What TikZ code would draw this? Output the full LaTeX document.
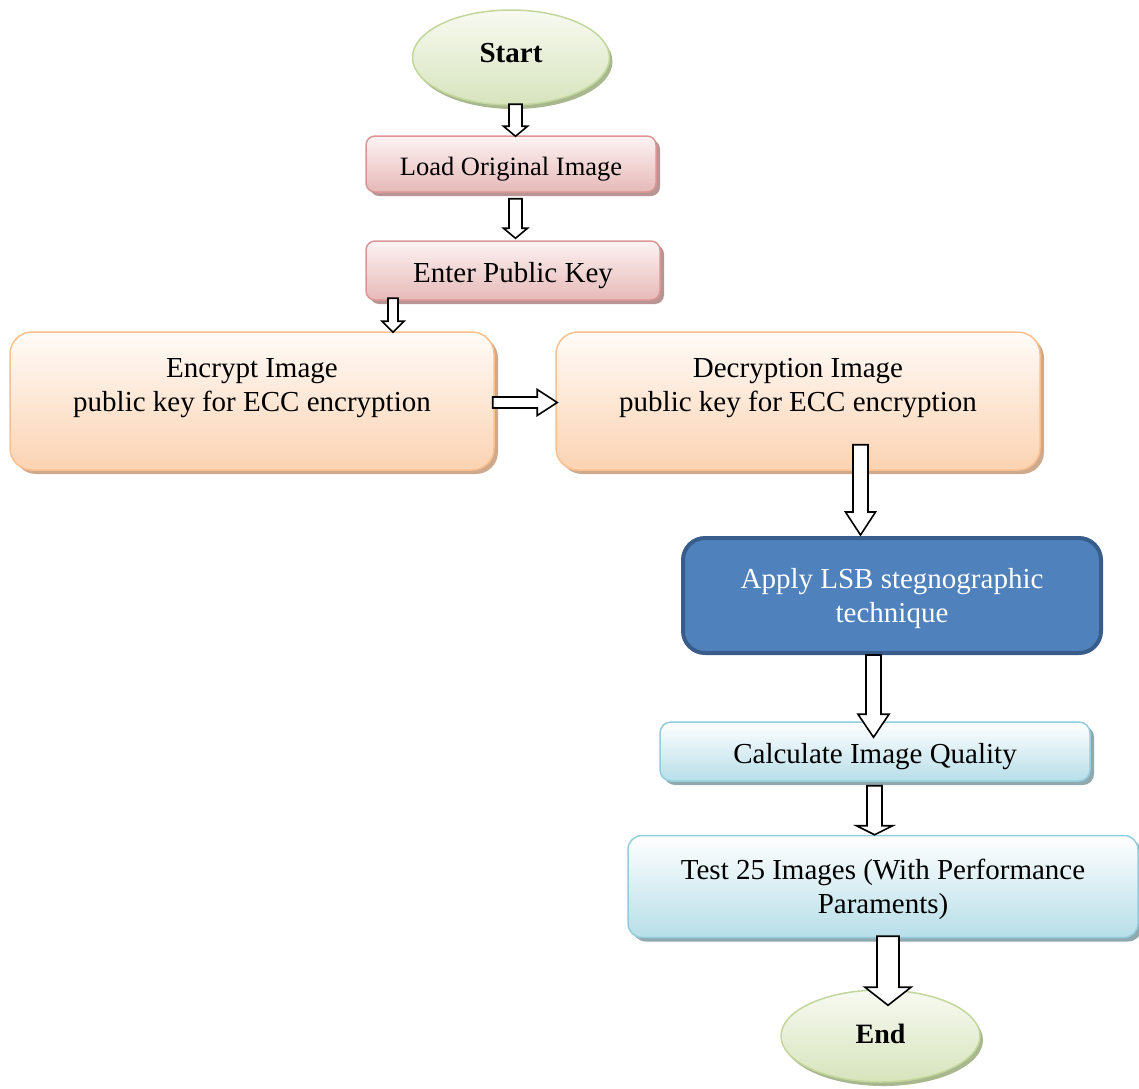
\documentclass[tikz,border=0pt]{standalone}
\usepackage{fontspec}
\setmainfont{Liberation Serif}
\usetikzlibrary{shapes.geometric,shadows,calc}

\definecolor{grnline}{HTML}{C3D69B}
\definecolor{grntop}{HTML}{F7FAF1}
\definecolor{grnbot}{HTML}{D7E4BD}
\definecolor{grnshd}{HTML}{A9B78F}
\definecolor{redline}{HTML}{D99694}
\definecolor{redtop}{HTML}{FDF3F3}
\definecolor{redbot}{HTML}{E6B9B8}
\definecolor{redshd}{HTML}{B89593}
\definecolor{orgline}{HTML}{FAC090}
\definecolor{orgtop}{HTML}{FFFBF8}
\definecolor{orgbot}{HTML}{FBD3B2}
\definecolor{orgshd}{HTML}{CFA98C}
\definecolor{lsbfill}{HTML}{4F81BD}
\definecolor{lsbline}{HTML}{385D8A}
\definecolor{aqline}{HTML}{93CDDD}
\definecolor{aqtop}{HTML}{FFFFFF}
\definecolor{aqbot}{HTML}{B7DEE8}
\definecolor{aqshd}{HTML}{90A9AF}

% hollow block arrows: from, to, half shaft, half head, head length
\newcommand\downblk[5]{%
  \draw[blk] let \p1=#1, \p2=#2 in
    (\x1-#3,\y1) -- (\x1-#3,\y2+#5) -- (\x1-#4,\y2+#5) -- (\x1,\y2)
    -- (\x1+#4,\y2+#5) -- (\x1+#3,\y2+#5) -- (\x1+#3,\y1) -- cycle;}
\newcommand\rightblk[5]{%
  \draw[blk] let \p1=#1, \p2=#2 in
    (\x1,\y1+#3) -- (\x2-#5,\y1+#3) -- (\x2-#5,\y1+#4) -- (\x2,\y1)
    -- (\x2-#5,\y1-#4) -- (\x2-#5,\y1-#3) -- (\x1,\y1-#3) -- cycle;}

\begin{document}
\begin{tikzpicture}[x=1pt,y=-1pt,
  every node/.style={align=center,inner sep=0pt,font=\fontsize{29}{34}\selectfont},
  blk/.style={draw=black,fill=white,line width=1.6pt,line join=miter},
  term/.style={ellipse,draw=grnline,line width=1.5pt,top color=grntop,bottom color=grnbot,
    drop shadow={shadow xshift=3pt,shadow yshift=-4pt,fill=grnshd,opacity=1},
    font=\bfseries\fontsize{29}{34}\selectfont},
  redbox/.style={rectangle,rounded corners=9pt,draw=redline,line width=1.5pt,
    top color=redtop,bottom color=redbot,text height=23pt,text depth=0pt,
    drop shadow={shadow xshift=4pt,shadow yshift=-4pt,fill=redshd,opacity=1}},
  orgbox/.style={rectangle,rounded corners=22pt,draw=orgline,line width=1.5pt,
    top color=orgtop,bottom color=orgbot,minimum width=484pt,minimum height=138pt,
    text height=26pt,text depth=6pt,
    drop shadow={shadow xshift=4pt,shadow yshift=-4pt,fill=orgshd,opacity=1}},
  lsbbox/.style={rectangle,rounded corners=22pt,draw=lsbline,line width=4pt,
    fill=lsbfill,text=white},
  aqbox/.style={rectangle,rounded corners=11pt,draw=aqline,line width=1.5pt,
    top color=aqtop,bottom color=aqbot,
    drop shadow={shadow xshift=4pt,shadow yshift=-4pt,fill=aqshd,opacity=1}}]
  \useasboundingbox (0,0) rectangle (1139,1088);

  % steps
  \node[term,minimum width=197pt,minimum height=95pt,text height=20pt,text depth=11pt] (start) at (511,57.5) {Start};
  \node[redbox,minimum width=290pt,minimum height=56pt,text height=22pt,
    font=\fontsize{26.5}{32}\selectfont] (load) at (511,164) {Load Original Image};
  \node[redbox,minimum width=294pt,minimum height=59pt] (key) at (513,270.5) {Enter Public Key};
  \node[orgbox] (enc) at (252,401) {Encrypt Image\\public key for ECC encryption};
  \node[orgbox] (dec) at (798,401) {Decryption Image\\public key for ECC encryption};
  \node[lsbbox,minimum width=418pt,minimum height=115pt,text height=60pt,text depth=6pt] (lsb) at (892,595.5)
    {Apply LSB stegnographic\\technique};
  \node[aqbox,minimum width=430pt,minimum height=59pt,text height=23pt,text depth=0pt] (qual) at (875,751.5)
    {Calculate Image Quality};
  \node[aqbox,rounded corners=14pt,minimum width=510pt,minimum height=102pt,text height=59pt,text depth=6pt]
    (test) at (883,886.5) {Test 25 Images (With Performance\\Paraments)};
  \node[term,minimum width=199pt,minimum height=92pt,text height=20pt,text depth=6pt,
    font=\bfseries\fontsize{28}{34}\selectfont] (end) at (880.5,1036) {End};

  % arrows
  \downblk{($(start.south)+(4.5,-1.5)$)}{($(load.north)+(0,1)$)}{6.5pt}{12pt}{10pt}
  \downblk{($(load.south)+(4.5,6)$)}{($(key.north)+(0,-2)$)}{6.5pt}{12pt}{10pt}
  \downblk{($(key.south)+(-120,-2.5)$)}{($(enc.north)+(0,1)$)}{5pt}{11pt}{11pt}
  \rightblk{($(enc.east)+(-2,1.5)$)}{($(dec.west)+(2,0)$)}{5.5pt}{13pt}{20pt}
  \downblk{($(dec.south)+(62.5,-26)$)}{($(lsb.north)+(0,-1)$)}{7.5pt}{15pt}{23pt}
  \downblk{($(lsb.south)+(-18.5,0)$)}{($(qual.north)+(0,16)$)}{7.5pt}{15.5pt}{23pt}
  \downblk{($(qual.south)+(-0.5,4)$)}{(test.north)}{7.5pt}{18pt}{9pt}
  \downblk{($(test.south)+(5,-2)$)}{($(end.north)+(0,16)$)}{11pt}{23pt}{18pt}
\end{tikzpicture}
\end{document}
